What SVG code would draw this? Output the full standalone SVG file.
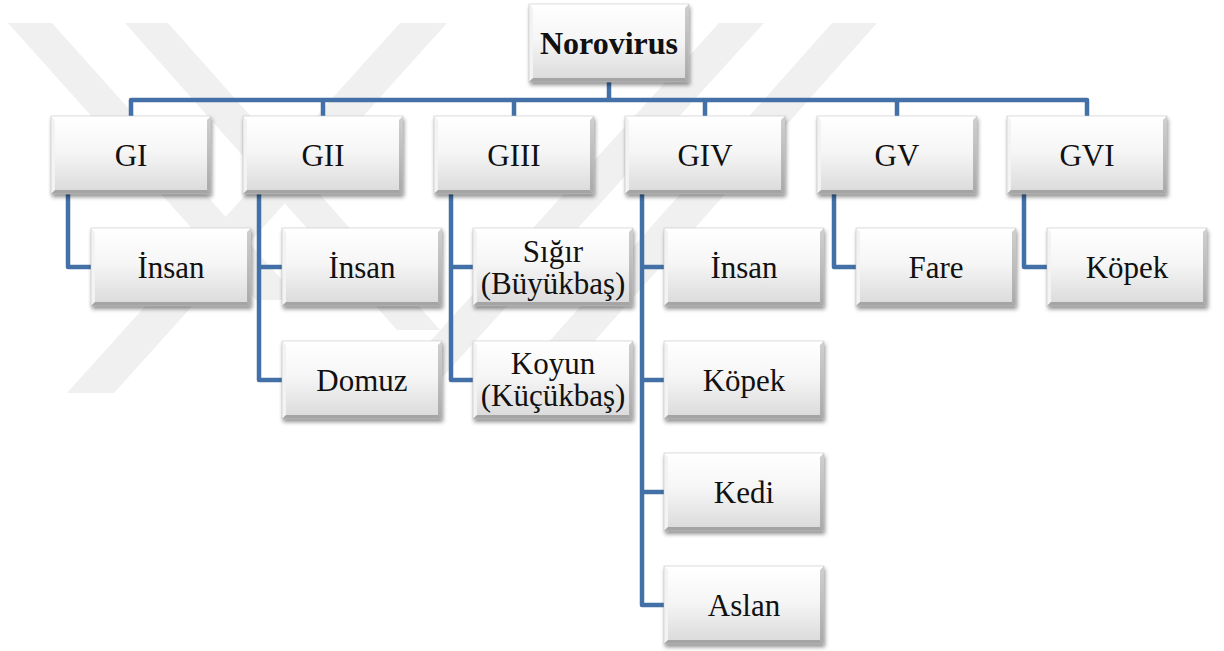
<svg xmlns="http://www.w3.org/2000/svg" xmlns:xlink="http://www.w3.org/1999/xlink" width="1224" height="651" viewBox="0 0 1224 651">
<style>
.t{font-family:'Liberation Serif','Times New Roman',serif;font-size:31px;fill:#111;text-anchor:middle}
.tb{font-weight:bold;font-size:32px}
.c{fill:none;stroke:#4370a6;stroke-width:4.5;stroke-linejoin:round}
.wm{fill:#f0f0f0}
</style>
<defs>
<linearGradient id="gFill" x1="0" y1="0" x2="0" y2="1">
<stop offset="0" stop-color="#ffffff"/>
<stop offset="0.45" stop-color="#f6f6f6"/>
<stop offset="1" stop-color="#d9d9d9"/>
</linearGradient>
<linearGradient id="gRight" x1="0" y1="0" x2="0" y2="1">
<stop offset="0" stop-color="#d0d0d0"/>
<stop offset="1" stop-color="#a9a9a9"/>
</linearGradient>
<filter id="sh" x="-10%" y="-10%" width="125%" height="135%">
<feDropShadow dx="1" dy="3" stdDeviation="2" flood-color="#000" flood-opacity="0.45"/>
</filter>
<g id="box">
<rect x="0" y="0" width="160" height="78" fill="url(#gFill)" filter="url(#sh)"/>
<polygon points="0,0 160,0 156,4 4,4" fill="#ffffff"/>
<polygon points="0,0 4,4 4,74 0,78" fill="#f3f3f3"/>
<polygon points="160,0 160,78 156,74 156,4" fill="url(#gRight)"/>
<polygon points="0,78 160,78 156,74 4,74" fill="#a4a4a4"/>
<rect x="0" y="0" width="160" height="78" fill="none" stroke="#c9c9c9" stroke-width="0.6"/>
</g>
</defs>
<rect width="1224" height="651" fill="#ffffff"/>
<g id="watermark">
<polygon class="wm" points="8,23 52,23 300,300 256,300"/>
<polygon class="wm" points="125,23 168,23 440,330 397,330"/>
<polygon class="wm" points="400,23 447,23 114,393 67,393"/>
<polygon class="wm" points="719,23 764,23 440,380 395,380"/>
<polygon class="wm" points="832,23 877,23 560,380 515,380"/>
</g>
<g id="connectors">
<path class="c" d="M609,82 V100"/>
<path class="c" d="M131,116 V100 H1087 V116"/>
<path class="c" d="M323,100 V116 M514,100 V116 M705,100 V116 M897,100 V116"/>
<path class="c" d="M68,194 V267 H91"/>
<path class="c" d="M259,194 V380 H282 M259,267 H282"/>
<path class="c" d="M451,194 V380 H473 M451,267 H473"/>
<path class="c" d="M642,194 V605 H664 M642,267 H664 M642,380 H664 M642,492 H664"/>
<path class="c" d="M834,194 V267 H856"/>
<path class="c" d="M1024,194 V267 H1047"/>
</g>
<g id="n-norovirus"><use xlink:href="#box" x="529" y="4"/><text class="t tb" x="609" y="54">Norovirus</text></g>
<g id="n-gi"><use xlink:href="#box" x="51" y="116"/><text class="t" x="131" y="166">GI</text></g>
<g id="n-gii"><use xlink:href="#box" x="243" y="116"/><text class="t" x="323" y="166">GII</text></g>
<g id="n-giii"><use xlink:href="#box" x="434" y="116"/><text class="t" x="514" y="166">GIII</text></g>
<g id="n-giv"><use xlink:href="#box" x="625" y="116"/><text class="t" x="705" y="166">GIV</text></g>
<g id="n-gv"><use xlink:href="#box" x="817" y="116"/><text class="t" x="897" y="166">GV</text></g>
<g id="n-gvi"><use xlink:href="#box" x="1007" y="116"/><text class="t" x="1087" y="166">GVI</text></g>
<g id="n-gi-insan"><use xlink:href="#box" x="91" y="228"/><text class="t" x="171" y="278">İnsan</text></g>
<g id="n-gii-insan"><use xlink:href="#box" x="282" y="228"/><text class="t" x="362" y="278">İnsan</text></g>
<g id="n-gii-domuz"><use xlink:href="#box" x="282" y="341"/><text class="t" x="362" y="391">Domuz</text></g>
<g id="n-giii-sigir"><use xlink:href="#box" x="473" y="228"/><text class="t" x="553" y="262">Sığır</text><text class="t" x="553" y="294">(Büyükbaş)</text></g>
<g id="n-giii-koyun"><use xlink:href="#box" x="473" y="341"/><text class="t" x="553" y="374">Koyun</text><text class="t" x="553" y="406">(Küçükbaş)</text></g>
<g id="n-giv-insan"><use xlink:href="#box" x="664" y="228"/><text class="t" x="744" y="278">İnsan</text></g>
<g id="n-giv-kopek"><use xlink:href="#box" x="664" y="341"/><text class="t" x="744" y="391">Köpek</text></g>
<g id="n-giv-kedi"><use xlink:href="#box" x="664" y="453"/><text class="t" x="744" y="503">Kedi</text></g>
<g id="n-giv-aslan"><use xlink:href="#box" x="664" y="566"/><text class="t" x="744" y="616">Aslan</text></g>
<g id="n-gv-fare"><use xlink:href="#box" x="856" y="228"/><text class="t" x="936" y="278">Fare</text></g>
<g id="n-gvi-kopek"><use xlink:href="#box" x="1047" y="228"/><text class="t" x="1127" y="278">Köpek</text></g>
</svg>
